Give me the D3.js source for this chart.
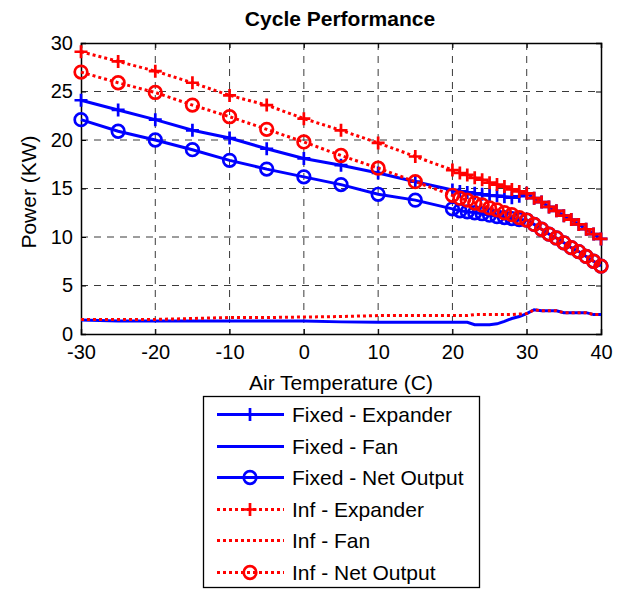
<!DOCTYPE html>
<html><head><meta charset="utf-8">
<script src="https://cdn.jsdelivr.net/npm/d3@7"></script>
<style>body{margin:0;background:#fff}svg{display:block;font-family:"Liberation Sans",Arial,sans-serif}</style>
</head><body><svg id="c" width="625" height="589"></svg>
<script>
const temps = [-30,-25,-20,-15,-10,-5,0,5,10,15,20,21,22,23,24,25,26,27,28,29,30,31,32,33,34,35,36,37,38,39,40];
const fixedExpander = [24.1,23.1,22.1,21.0,20.2,19.1,18.1,17.4,16.6,15.7,14.85,14.7,14.6,14.5,14.4,14.3,14.25,14.15,14.05,14.2,14.5,14.0,13.6,13.1,12.7,12.2,11.8,11.3,10.8,10.3,9.8];
const fixedFan = [1.45,1.35,1.35,1.35,1.35,1.35,1.35,1.25,1.2,1.2,1.2,1.2,1.2,0.95,0.95,0.95,1.05,1.3,1.6,1.8,2.1,2.5,2.4,2.4,2.4,2.2,2.2,2.2,2.2,2.0,2.0];
const fixedNet = [22.1,20.9,20.0,19.0,17.9,17.0,16.2,15.4,14.4,13.8,12.9,12.7,12.6,12.5,12.4,12.25,12.1,12.0,11.9,11.8,11.75,11.3,10.8,10.3,9.9,9.4,8.9,8.5,8.0,7.5,7.0];
const infExpander = [29.1,28.1,27.1,25.9,24.6,23.6,22.2,21.0,19.7,18.3,16.9,16.6,16.4,16.1,15.9,15.6,15.4,15.2,14.9,14.7,14.5,14.0,13.6,13.1,12.7,12.2,11.8,11.3,10.8,10.3,9.8];
const infFan = [1.5,1.5,1.5,1.6,1.7,1.7,1.75,1.8,1.9,1.9,1.9,1.9,1.9,2.0,2.0,2.0,2.0,2.0,2.0,2.05,2.1,2.5,2.4,2.4,2.4,2.2,2.2,2.2,2.2,2.0,2.0];
const infNet = [27.0,25.9,24.9,23.6,22.4,21.1,19.8,18.4,17.1,15.7,14.3,14.0,13.8,13.5,13.3,13.0,12.8,12.5,12.3,12.0,11.75,11.3,10.8,10.3,9.9,9.4,8.9,8.5,8.0,7.5,7.0];
const xTicks = [-30,-20,-10,0,10,20,30,40];
const yTicks = [0,5,10,15,20,25,30];
const seriesNames = ["Fixed - Expander","Fixed - Fan","Fixed - Net Output","Inf - Expander","Inf - Fan","Inf - Net Output"];

const series = [
  {name:seriesNames[0], vals:fixedExpander, color:"#0000ff", dash:null, marker:"plus"},
  {name:seriesNames[1], vals:fixedFan, color:"#0000ff", dash:null, marker:null},
  {name:seriesNames[2], vals:fixedNet, color:"#0000ff", dash:null, marker:"circle"},
  {name:seriesNames[3], vals:infExpander, color:"#ff0000", dash:"3,3", marker:"plus"},
  {name:seriesNames[4], vals:infFan, color:"#ff0000", dash:"3,3", marker:null},
  {name:seriesNames[5], vals:infNet, color:"#ff0000", dash:"3,3", marker:"circle"}
];

const svg = d3.select("#c");
const L=81, R=601, T=43, B=334;
const x = d3.scaleLinear().domain([-30,40]).range([L,R]);
const y = d3.scaleLinear().domain([0,30]).range([B,T]);
const fmt = d => String(d);

// grid
const g = svg.append("g");
g.selectAll(".gx").data(xTicks.filter(t=>t>-30&&t<40)).enter().append("line")
  .attr("x1",d=>x(d)).attr("x2",d=>x(d)).attr("y1",T).attr("y2",B)
  .attr("stroke","#3a3a3a").attr("stroke-width",1).attr("stroke-dasharray","7,6");
g.selectAll(".gy").data(yTicks.filter(t=>t>0&&t<30)).enter().append("line")
  .attr("y1",d=>y(d)).attr("y2",d=>y(d)).attr("x1",L).attr("x2",R)
  .attr("stroke","#3a3a3a").attr("stroke-width",1).attr("stroke-dasharray","7,6");

// axes
svg.append("g").attr("transform",`translate(0,${B})`)
  .call(d3.axisBottom(x).tickValues(xTicks).tickSize(-5).tickPadding(11).tickFormat(fmt));
svg.append("g").attr("transform",`translate(${L},0)`)
  .call(d3.axisLeft(y).tickValues(yTicks).tickSize(-5).tickPadding(8).tickFormat(fmt));
svg.append("g").attr("transform",`translate(0,${T})`)
  .call(d3.axisTop(x).tickValues(xTicks).tickSize(-5).tickFormat(""));
svg.append("g").attr("transform",`translate(${R},0)`)
  .call(d3.axisRight(y).tickValues(yTicks).tickSize(-5).tickFormat(""));
svg.selectAll(".domain").attr("stroke","#000").attr("stroke-width",1.5);
svg.selectAll(".tick line").attr("stroke","#000");
svg.selectAll(".tick text").attr("font-size",20).attr("fill","#000").attr("font-family","Liberation Sans, Arial, sans-serif");

// lines
const line = d3.line().x((d,i)=>x(temps[i])).y(d=>y(d));
const plotG = svg.append("g");
function drawMarker(sel, type, color){
  if(type==="plus"){
    sel.append("path").attr("d","M-6.5,0H6.5M0,-6.5V6.5").attr("stroke",color).attr("stroke-width",2.7).attr("fill","none");
  } else if(type==="circle"){
    sel.append("circle").attr("r",6.3).attr("stroke",color).attr("stroke-width",2.7).attr("fill","none");
  }
}
series.forEach(s=>{
  plotG.append("path").datum(s.vals).attr("d",line).attr("fill","none")
    .attr("stroke",s.color).attr("stroke-width",3)
    .attr("stroke-dasharray",s.dash);
  if(s.marker){
    s.vals.forEach((v,i)=>{
      const m = plotG.append("g").attr("transform",`translate(${x(temps[i])},${y(v)})`);
      drawMarker(m,s.marker,s.color);
    });
  }
});

// title & labels
svg.append("text").attr("x",340).attr("y",26).attr("text-anchor","middle")
  .attr("font-size",21).attr("font-weight","bold").text("Cycle Performance");
svg.append("text").attr("x",341).attr("y",390).attr("text-anchor","middle")
  .attr("font-size",21).text("Air Temperature (C)");
svg.append("text").attr("transform","translate(36,192) rotate(-90)").attr("text-anchor","middle")
  .attr("font-size",21).text("Power (KW)");

// legend
const lg = svg.append("g");
lg.append("rect").attr("x",203.5).attr("y",396.5).attr("width",276).attr("height",191)
  .attr("fill","#fff").attr("stroke","#000").attr("stroke-width",1.3);
const rowY = d3.scaleLinear().domain([0,5]).range([414,572]);
series.forEach((s,i)=>{
  const yy = Math.round(rowY(i)) + 0.5;
  lg.append("line").attr("x1",217).attr("x2",284).attr("y1",yy).attr("y2",yy)
    .attr("stroke",s.color).attr("stroke-width",3).attr("stroke-dasharray",s.dash);
  if(s.marker){
    const m = lg.append("g").attr("transform",`translate(250,${yy})`);
    drawMarker(m,s.marker,s.color);
  }
  lg.append("text").attr("x",292).attr("y",yy+7.5).attr("font-size",21).text(s.name);
});
</script>
</body></html>
